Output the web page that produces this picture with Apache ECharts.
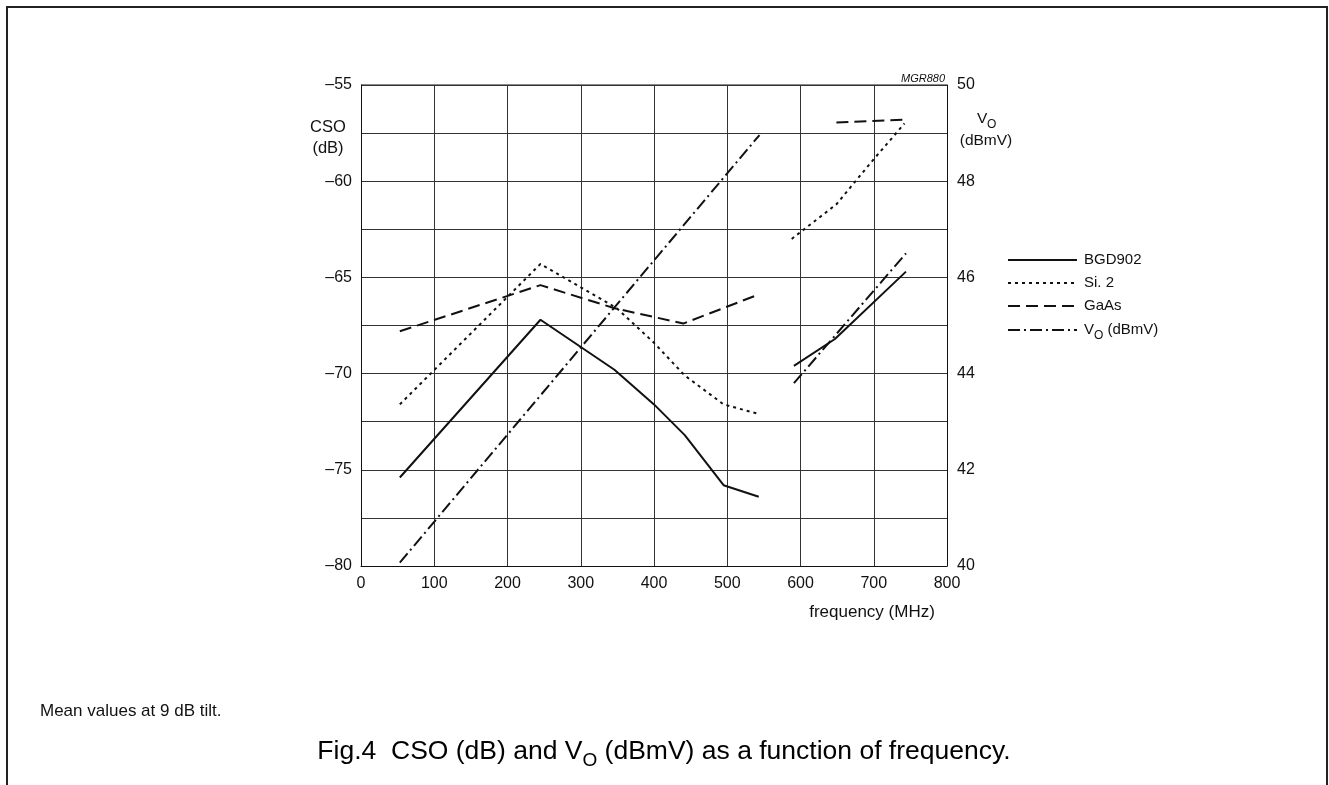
<!DOCTYPE html>
<html>
<head>
<meta charset="utf-8">
<title>CSO and Vo versus frequency</title>
<script src="https://cdn.jsdelivr.net/npm/echarts@6/dist/echarts.min.js"></script>
<style>
  html, body { margin: 0; padding: 0; background: #fff; }
  #chart { width: 1329px; height: 785px; }
</style>
</head>
<body>
<div id="chart"></div>
<script>
// Frequency (MHz) / CSO (dB) readings, low band (50-550 MHz) and high band (590-750 MHz)
const bgdLowFreq  = [53, 245, 346, 400, 442, 495, 543];
const bgdLowCso   = [-75.4, -67.2, -69.8, -71.6, -73.2, -75.8, -76.4];
const bgdHighFreq = [591, 647, 744];
const bgdHighCso  = [-69.6, -68.2, -64.7];

const si2LowFreq  = [53, 245, 349, 400, 442, 495, 543];
const si2LowCso   = [-71.6, -64.3, -66.6, -68.4, -70.1, -71.6, -72.1];
const si2HighFreq = [588, 649, 699, 742];
const si2HighCso  = [-63.0, -61.2, -58.9, -57.0];

const gaasLowFreq  = [53, 245, 346, 440, 542];
const gaasLowCso   = [-67.8, -65.4, -66.6, -67.4, -65.9];
const gaasHighFreq = [649, 743];
const gaasHighCso  = [-56.95, -56.8];

// Output level Vo (dBmV), right-hand axis
const voLowFreq  = [53, 544];
const voLowDbmv  = [40.07, 48.96];
const voHighFreq = [591, 744];
const voHighDbmv = [43.8, 46.5];

const seriesNames = ['BGD902', 'Si. 2', 'GaAs', 'V'];

const FONT = '"Liberation Sans", Arial, Helvetica, sans-serif';
const INK = '#111';

const pairs = (xs, ys) => xs.map((x, i) => [x, ys[i]]);

const solid   = 'solid';
const dotted  = [3, 4];
const dashed  = [12, 6];
const dashDot = [12, 4, 2, 4];

function lineSeries(name, xs, ys, dash, yIndex) {
  return {
    name: name,
    type: 'line',
    yAxisIndex: yIndex,
    data: pairs(xs, ys),
    showSymbol: false,
    symbol: 'none',
    silent: true,
    animation: false,
    lineStyle: { color: INK, width: 2, type: dash, cap: 'butt' }
  };
}

const chart = echarts.init(document.getElementById('chart'), null, { renderer: 'canvas' });

const legendX0 = 1008, legendX1 = 1077, legendTextX = 1084;
const legendRows = [260, 283, 306, 330];
const legendDashes = [null, dotted, dashed, dashDot];

const legendGraphics = [];
legendRows.forEach((y, i) => {
  legendGraphics.push({
    type: 'line',
    shape: { x1: legendX0, y1: y, x2: legendX1, y2: y },
    style: { stroke: INK, lineWidth: 2, lineDash: legendDashes[i] }
  });
  if (i < 3) {
    legendGraphics.push({
      type: 'text', x: legendTextX, y: y,
      style: { text: seriesNames[i], font: '15px ' + FONT, fill: INK, textVerticalAlign: 'middle' }
    });
  } else {
    legendGraphics.push({
      type: 'text', x: legendTextX, y: y + 2,
      style: {
        text: '{v|V}{s|O}{v| (dBmV)}',
        fill: INK,
        textVerticalAlign: 'middle',
        rich: {
          v: { fontSize: 15, fontFamily: FONT, color: INK, lineHeight: 20, verticalAlign: 'top' },
          s: { fontSize: 12, fontFamily: FONT, color: INK, lineHeight: 12, verticalAlign: 'bottom' }
        }
      }
    });
  }
});

const option = {
  backgroundColor: '#fff',
  animation: false,
  grid: { left: 361, right: 382, top: 85, bottom: 219, containLabel: false },
  xAxis: {
    type: 'value', min: 0, max: 800, interval: 100,
    axisLine: { show: true, lineStyle: { color: INK, width: 1 } },
    axisTick: { show: false },
    axisLabel: { color: INK, fontSize: 16, fontFamily: FONT, margin: 10 },
    splitLine: { show: true, lineStyle: { color: '#333', width: 1 } }
  },
  yAxis: [
    {
      type: 'value', position: 'left', min: -80, max: -55, interval: 2.5,
      axisLine: { show: true, lineStyle: { color: INK, width: 1 } },
      axisTick: { show: false },
      axisLabel: {
        color: INK, fontSize: 16, fontFamily: FONT, margin: 9,
        formatter: v => (Math.abs(v % 5) < 1e-6 ? '\u2013' + Math.abs(v) : '')
      },
      splitLine: { show: true, lineStyle: { color: '#333', width: 1 } }
    },
    {
      type: 'value', position: 'right', min: 40, max: 50, interval: 1,
      axisLine: { show: true, lineStyle: { color: INK, width: 1 } },
      axisTick: { show: false },
      axisLabel: {
        color: INK, fontSize: 16, fontFamily: FONT, margin: 10,
        formatter: v => (v % 2 === 0 ? String(v) : '')
      },
      splitLine: { show: false }
    }
  ],
  series: [
    lineSeries(seriesNames[0], bgdLowFreq, bgdLowCso, solid, 0),
    lineSeries(seriesNames[0], bgdHighFreq, bgdHighCso, solid, 0),
    lineSeries(seriesNames[1], si2LowFreq, si2LowCso, dotted, 0),
    lineSeries(seriesNames[1], si2HighFreq, si2HighCso, dotted, 0),
    lineSeries(seriesNames[2], gaasLowFreq, gaasLowCso, dashed, 0),
    lineSeries(seriesNames[2], gaasHighFreq, gaasHighCso, dashed, 0),
    lineSeries(seriesNames[3], voLowFreq, voLowDbmv, dashDot, 1),
    lineSeries(seriesNames[3], voHighFreq, voHighDbmv, dashDot, 1)
  ],
  graphic: [
    // page frame, open at the bottom
    {
      type: 'polyline',
      shape: { points: [[7, 785], [7, 7], [1327, 7], [1327, 785]] },
      style: { stroke: '#222', lineWidth: 2, fill: null }
    },
    // top plot border
    {
      type: 'line',
      shape: { x1: 361, y1: 85, x2: 947, y2: 85 },
      style: { stroke: INK, lineWidth: 1 }
    },
    // drawing code
    {
      type: 'text', x: 945, y: 79,
      style: { text: 'MGR880', font: 'italic 11px ' + FONT, fill: INK, textAlign: 'right', textVerticalAlign: 'middle' }
    },
    // left axis title
    {
      type: 'text', x: 328, y: 127,
      style: { text: 'CSO', font: '16.5px ' + FONT, fill: INK, textAlign: 'center', textVerticalAlign: 'middle' }
    },
    {
      type: 'text', x: 328, y: 148,
      style: { text: '(dB)', font: '16.5px ' + FONT, fill: INK, textAlign: 'center', textVerticalAlign: 'middle' }
    },
    // right axis title
    {
      type: 'text', x: 977, y: 119,
      style: { text: 'V', font: '15.5px ' + FONT, fill: INK, textVerticalAlign: 'middle' }
    },
    {
      type: 'text', x: 987, y: 125,
      style: { text: 'O', font: '12px ' + FONT, fill: INK, textVerticalAlign: 'middle' }
    },
    {
      type: 'text', x: 986, y: 141,
      style: { text: '(dBmV)', font: '15.5px ' + FONT, fill: INK, textAlign: 'center', textVerticalAlign: 'middle' }
    },
    // x axis title
    {
      type: 'text', x: 872, y: 612,
      style: { text: 'frequency (MHz)', font: '17px ' + FONT, fill: INK, textAlign: 'center', textVerticalAlign: 'middle' }
    },
    // note
    {
      type: 'text', x: 40, y: 711,
      style: { text: 'Mean values at 9 dB tilt.', font: '17px ' + FONT, fill: INK, textVerticalAlign: 'middle' }
    },
    // caption
    {
      type: 'text', x: 664, y: 754,
      style: {
        text: '{a|Fig.4  CSO (dB) and V}{s|O}{a| (dBmV) as a function of frequency.}',
        textAlign: 'center', textVerticalAlign: 'middle',
        rich: {
          a: { fontSize: 26.5, fontFamily: FONT, color: INK, lineHeight: 32, verticalAlign: 'top' },
          s: { fontSize: 19, fontFamily: FONT, color: INK, lineHeight: 19, verticalAlign: 'bottom' }
        }
      }
    }
  ].concat(legendGraphics)
};

chart.setOption(option);
</script>
</body>
</html>
